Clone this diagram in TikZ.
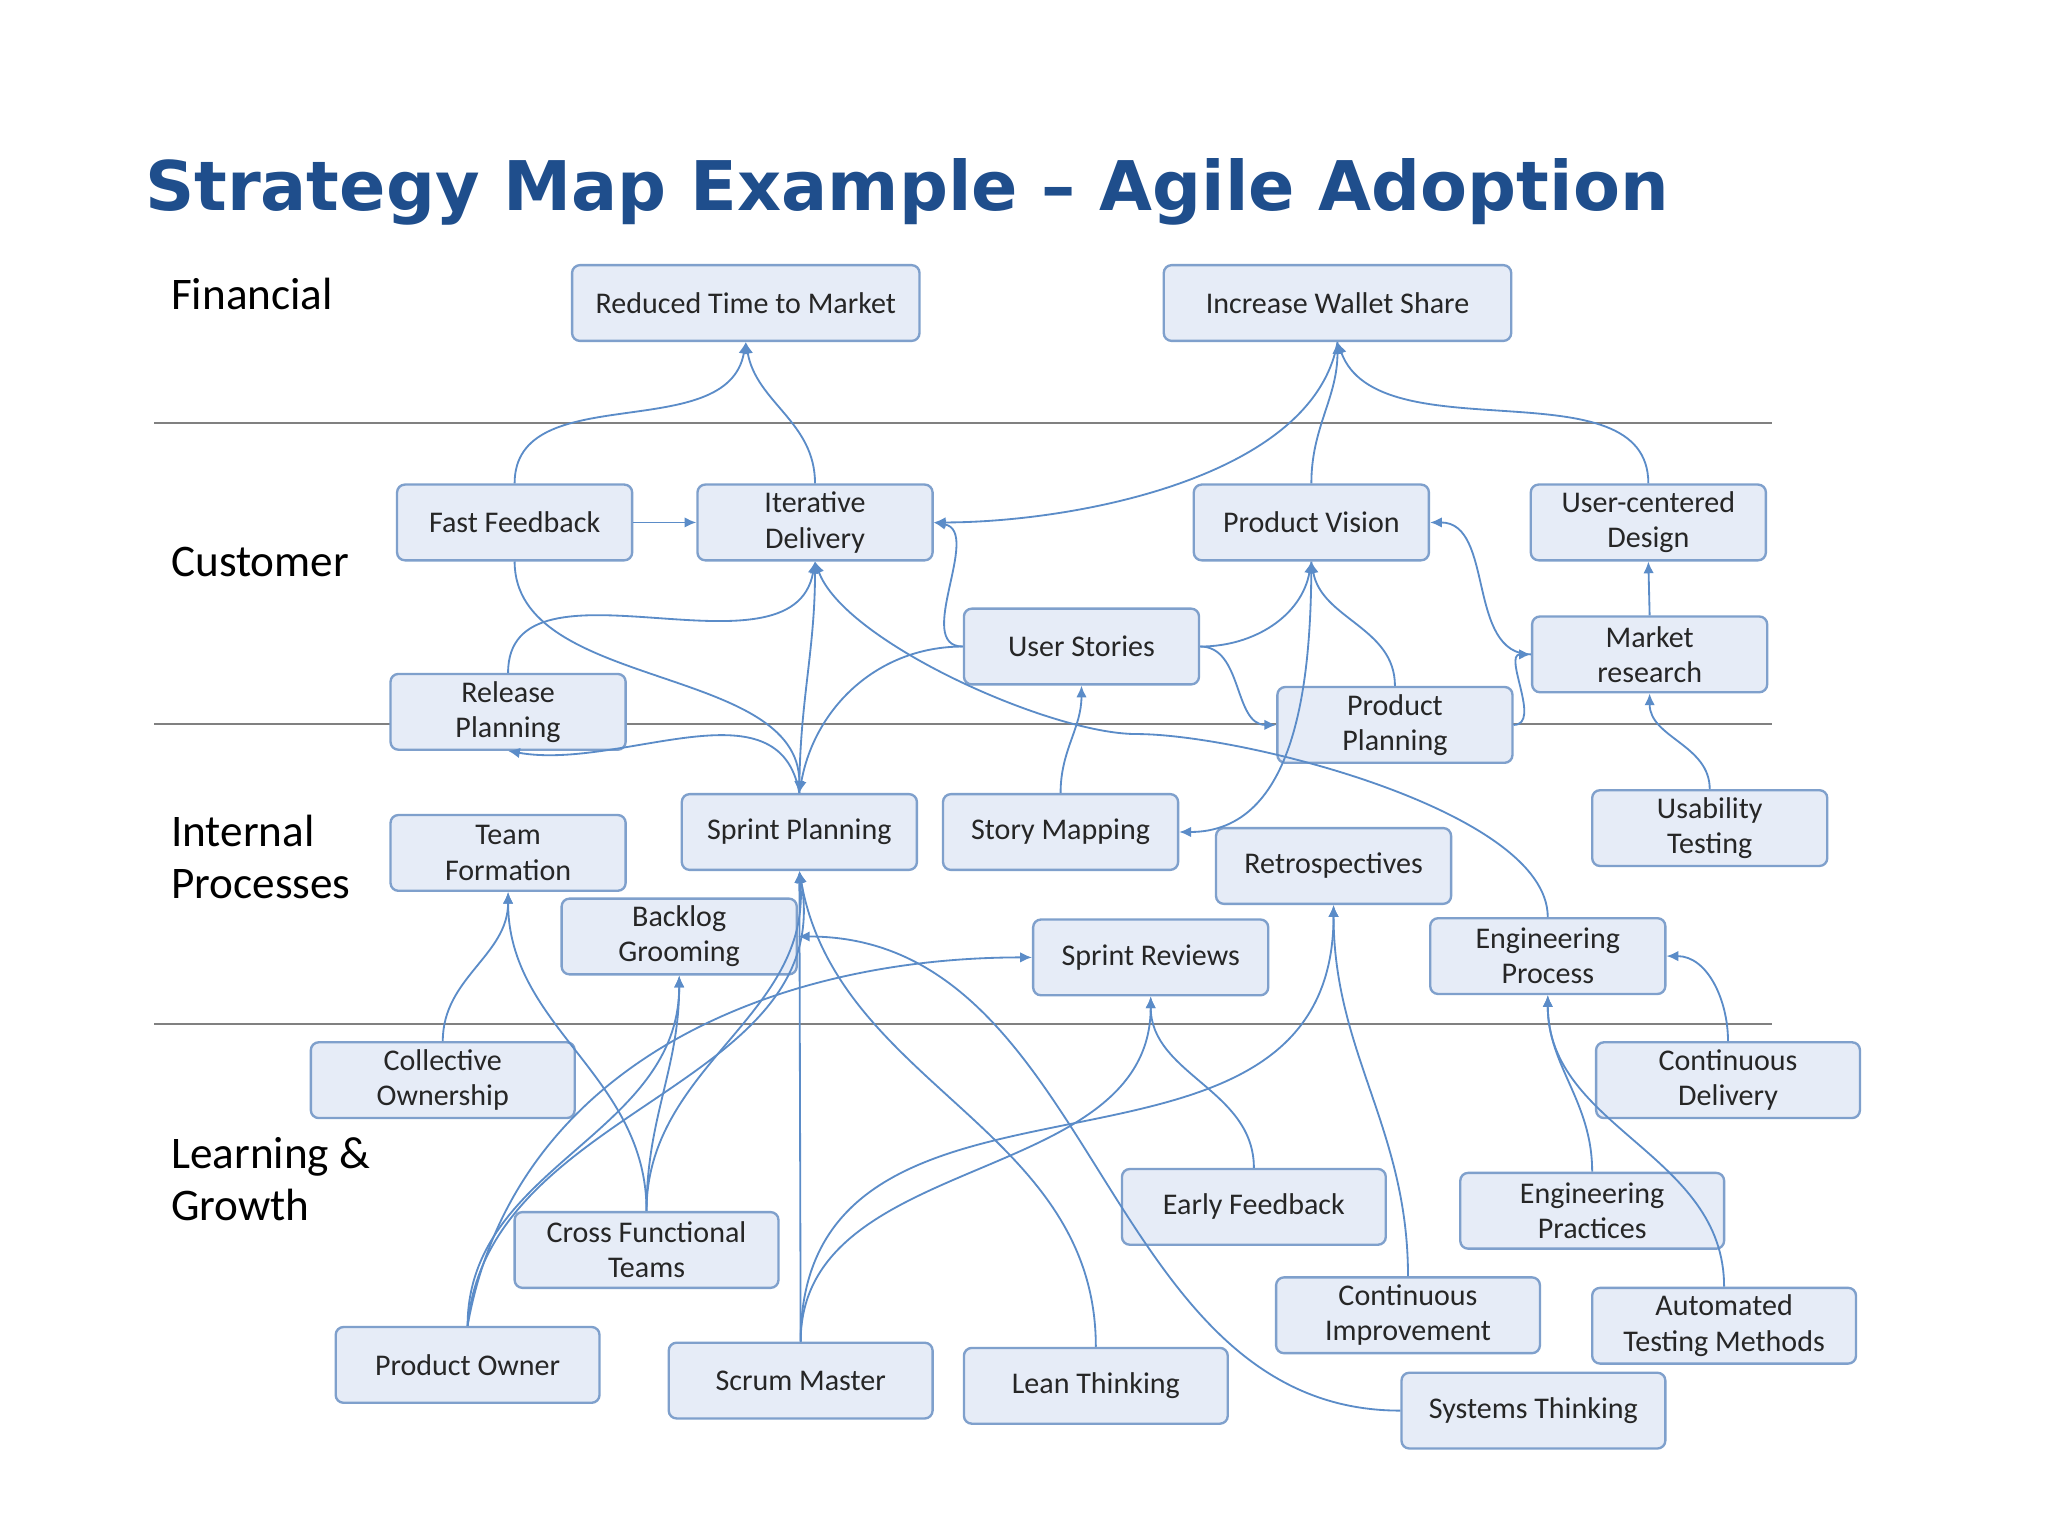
\documentclass[tikz,border=0pt]{standalone}
\usepackage{fontspec}
\setmainfont{Carlito}
\newfontfamily\titlefont{DejaVu Sans}
\usetikzlibrary{arrows.meta}
\definecolor{bfill}{HTML}{E6ECF7}
\definecolor{bdraw}{HTML}{7FA0CC}
\definecolor{conn}{HTML}{5B8CC8}
\definecolor{ttl}{HTML}{1F4E8C}
\tikzset{
 box/.style={draw=bdraw,fill=bfill,rounded corners=3pt,line width=0.9pt,minimum width=90pt,minimum height=29pt,align=center,font=\fontsize{11.5}{13.5}\selectfont,inner sep=1pt,text=black!85},
 wbox/.style={box,minimum width=101pt},
 xbox/.style={box,minimum width=133pt},
 cn/.style={draw=conn,line width=0.7pt,-{Latex[length=4.5pt,width=4pt]}},
 lab/.style={anchor=west,font=\fontsize{17.3}{20}\selectfont,align=left,text=black},
}
\begin{document}
\begin{tikzpicture}[x=0.5pt,y=-0.5pt]
\useasboundingbox[fill=white] (0,0) rectangle (1568,1176);
\node[anchor=west,font=\titlefont\bfseries\fontsize{26.2}{31}\selectfont,text=ttl] at (104,147) {Strategy Map Example – Agile Adoption};
\foreach \yy in {324,554,784} \draw[gray,line width=0.8pt] (118,\yy) -- (1357,\yy);
\node[lab] at (124,225) {Financial};
\node[lab] at (124,430) {Customer};
\node[lab] at (124,656) {Internal\\Processes};
\node[lab] at (124,903) {Learning \&\\Growth};
% nodes
\node[xbox] (rtm) at (571,232) {Reduced Time to Market};
\node[xbox] (iws) at (1024,232) {Increase Wallet Share};
\node[box] (ff) at (394,400) {Fast Feedback};
\node[box] (id) at (624,400) {Iterative\\Delivery};
\node[box] (pv) at (1004,400) {Product Vision};
\node[box] (ucd) at (1262,400) {User-centered\\Design};
\node[box] (us) at (828,495) {User Stories};
\node[box] (mr) at (1263,501) {Market\\research};
\node[box] (rp) at (389,545) {Release\\Planning};
\node[box] (pp) at (1068,555) {Product\\Planning};
\node[box] (sp) at (612,637) {Sprint Planning};
\node[box] (sm) at (812,637) {Story Mapping};
\node[box] (ut) at (1309,634) {Usability\\Testing};
\node[box] (tf) at (389,653) {Team\\Formation};
\node[box] (re) at (1021,663) {Retrospectives};
\node[box] (bg) at (520,717) {Backlog\\Grooming};
\node[box] (sr) at (881,733) {Sprint Reviews};
\node[box] (ep) at (1185,732) {Engineering\\Process};
\node[wbox] (co) at (339,827) {Collective\\Ownership};
\node[wbox] (cd) at (1323,827) {Continuous\\Delivery};
\node[wbox] (ef) at (960,924) {Early Feedback};
\node[wbox] (epr) at (1219,927) {Engineering\\Practices};
\node[wbox] (cft) at (495,957) {Cross Functional\\Teams};
\node[wbox] (ci) at (1078,1007) {Continuous\\Improvement};
\node[wbox] (atm) at (1320,1015) {Automated\\Testing Methods};
\node[wbox] (po) at (358,1045) {Product Owner};
\node[wbox] (scm) at (613,1057) {Scrum Master};
\node[wbox] (lt) at (839,1061) {Lean Thinking};
\node[wbox] (st) at (1174,1080) {Systems Thinking};
% connectors
\draw[cn] (ff.north) to[out=90,in=-100] (rtm.south);
\draw[cn] (id.north) to[out=90,in=-80] (rtm.south);
\draw[cn] (ff.east) -- (id.west);
\draw[cn] (iws.south) to[out=-100,in=0,looseness=0.8] (id.east);
\draw[cn] (pv.north) to[out=90,in=-90] (iws.south);
\draw[cn] (ucd.north) to[out=90,in=-70,looseness=0.9] (iws.south);
\draw[cn] (us.west) to[out=180,in=-10] (id.east);
\draw[cn] (rp.north) to[out=90,in=-100] (id.south);
\draw[cn] (sp.north) to[out=90,in=-90] (id.south);
\draw[cn] (ff.south) to[out=-90,in=90,looseness=0.9] (sp.north);
\draw[cn] (ep.north) to[out=90,in=0,looseness=0.6] (870,562) to[out=180,in=-70,looseness=0.6] (id.south);
\draw[cn] (us.west) to[out=180,in=80] (sp.north);
\draw[cn] (us.east) to[out=0,in=-100] (pv.south);
\draw[cn] (us.east) to[out=0,in=180] (pp.west);
\draw[cn] (sm.north) to[out=90,in=-90] (us.south);
\draw[cn] (pv.south) to[out=-90,in=0] (sm.east);
\draw[cn] (pp.north) to[out=90,in=-80] (pv.south);
\draw[cn] (mr.west) to[out=180,in=0] (pv.east);
\draw[cn] (pp.east) to[out=0,in=180] (mr.west);
\draw[cn] (mr.north) -- (ucd.south);
\draw[cn] (ut.north) to[out=90,in=-90] (mr.south);
\draw[cn] (sp.north) to[out=100,in=-10] (rp.south);
\draw[cn] (co.north) to[out=90,in=-90] (tf.south);
\draw[cn] (cft.north) to[out=90,in=-90] (tf.south);
\draw[cn] (cft.north) to[out=90,in=-90] (bg.south);
\draw[cn] (po.north) to[out=90,in=-90] (bg.south);
\draw[cn] (po.north) to[out=80,in=180] (sr.west);
\draw[cn] (po.north) to[out=85,in=-80] (sp.south);
\draw[cn] (cft.north) to[out=90,in=-85] (sp.south);
\draw[cn] (scm.north) -- (sp.south);
\draw[cn] (scm.north) to[out=90,in=-90] (sr.south);
\draw[cn] (scm.north) to[out=90,in=-90,looseness=1.2] (re.south);
\draw[cn] (lt.north) to[out=90,in=-80] (sp.south);
\draw[cn] (st.west) to[out=180,in=0] (bg.east);
\draw[cn] (ef.north) to[out=90,in=-90] (sr.south);
\draw[cn] (ci.north) to[out=90,in=-90] (re.south);
\draw[cn] (epr.north) to[out=90,in=-90] (ep.south);
\draw[cn] (atm.north) to[out=90,in=-90] (ep.south);
\draw[cn] (cd.north) to[out=90,in=0] (ep.east);
\end{tikzpicture}
\end{document}
